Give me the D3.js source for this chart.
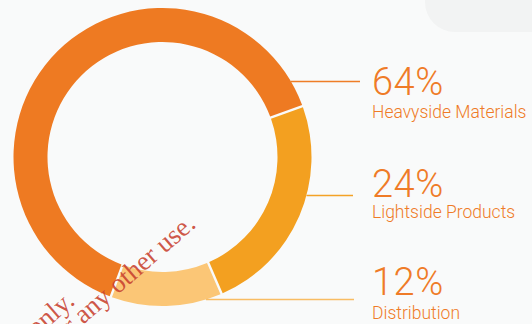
<!DOCTYPE html>
<html>
<head>
<meta charset="utf-8">
<script src="https://cdn.jsdelivr.net/npm/d3@7"></script>
<style>
  html, body { margin: 0; padding: 0; background: #f9fafa; }
  svg { display: block; }
</style>
</head>
<body>
<script>
// Revenue split by business segment
const segments = ["Heavyside Materials", "Lightside Products", "Distribution"];
const shares = [64, 24, 12];
const shareLabels = ["64%", "24%", "12%"];
const segmentColors = ["#ee7a22", "#f3a020", "#fbc676"];
const leaderColors = ["#ef7d26", "#f4a226", "#f9bd63"];

const W = 532, H = 324;
const cx = 162.5, cy = 157, rOuter = 149, rInner = 115;

const svg = d3.select("body").append("svg")
  .attr("width", W).attr("height", H);

// faint backdrop shapes
svg.append("rect").attr("width", W).attr("height", H).attr("fill", "#f9fafa");
svg.append("rect")
  .attr("x", 425).attr("y", -40).attr("width", 160).attr("height", 72)
  .attr("rx", 30).attr("fill", "#f2f3f3");

// ring: Heavyside ends at ~70.7deg (clockwise from 12 o'clock)
const endOfFirst = 70.7 * Math.PI / 180;
const startAngle = endOfFirst - 2 * Math.PI * shares[0] / 100;

const pie = d3.pie().sort(null).value(d => d)
  .startAngle(startAngle).endAngle(startAngle + 2 * Math.PI)
  .padAngle(2.4 / Math.sqrt(rInner * rInner + rOuter * rOuter));

const arc = d3.arc().innerRadius(rInner).outerRadius(rOuter);

const g = svg.append("g").attr("transform", `translate(${cx},${cy})`);
g.selectAll("path").data(pie(shares)).join("path")
  .attr("d", arc)
  .attr("fill", (d, i) => segmentColors[i]);

// labels with leader lines running from the ring's edge
const textX = 372;
const layout = [
  { line: 81.5, lineEnd: 360, pct: 95, name: 118 },
  { line: 195.5, lineEnd: 353, pct: 197, name: 218 },
  { line: 299.5, lineEnd: 354, pct: 295, name: 319 }
];
const textColor = "#ef7b27";

layout.forEach((L, i) => {
  const dy = L.line - cy;
  const x0 = cx + Math.sqrt(Math.max(0, rOuter * rOuter - dy * dy));
  svg.append("line")
    .attr("x1", x0).attr("x2", L.lineEnd)
    .attr("y1", L.line).attr("y2", L.line)
    .attr("stroke", leaderColors[i]).attr("stroke-width", 1.5);

  svg.append("text")
    .attr("x", textX).attr("y", L.pct)
    .attr("font-family", "Roboto, 'Liberation Sans', sans-serif")
    .attr("font-weight", 300)
    .attr("font-size", 38)
    .attr("letter-spacing", 0.5)
    .attr("fill", textColor)
    .text(shareLabels[i]);

  svg.append("text")
    .attr("x", textX).attr("y", L.name)
    .attr("font-family", "Roboto, 'Liberation Sans', sans-serif")
    .attr("font-weight", 300)
    .attr("font-size", 17.5)
    .attr("fill", textColor)
    .text(segments[i]);
});

// review stamp across the lower left
const stamp = svg.append("g")
  .attr("font-family", "'Liberation Serif', 'DejaVu Serif', serif")
  .attr("font-size", 27)
  .attr("fill", "#c8412f")
  .attr("fill-opacity", 0.88)
  .attr("text-anchor", "end");
stamp.append("text")
  .attr("transform", "translate(76,303) rotate(-41)")
  .text("For review purposes only.");
stamp.append("text")
  .attr("transform", "translate(197,226) rotate(-41)")
  .text("Not for any other use.");
</script>
</body>
</html>
